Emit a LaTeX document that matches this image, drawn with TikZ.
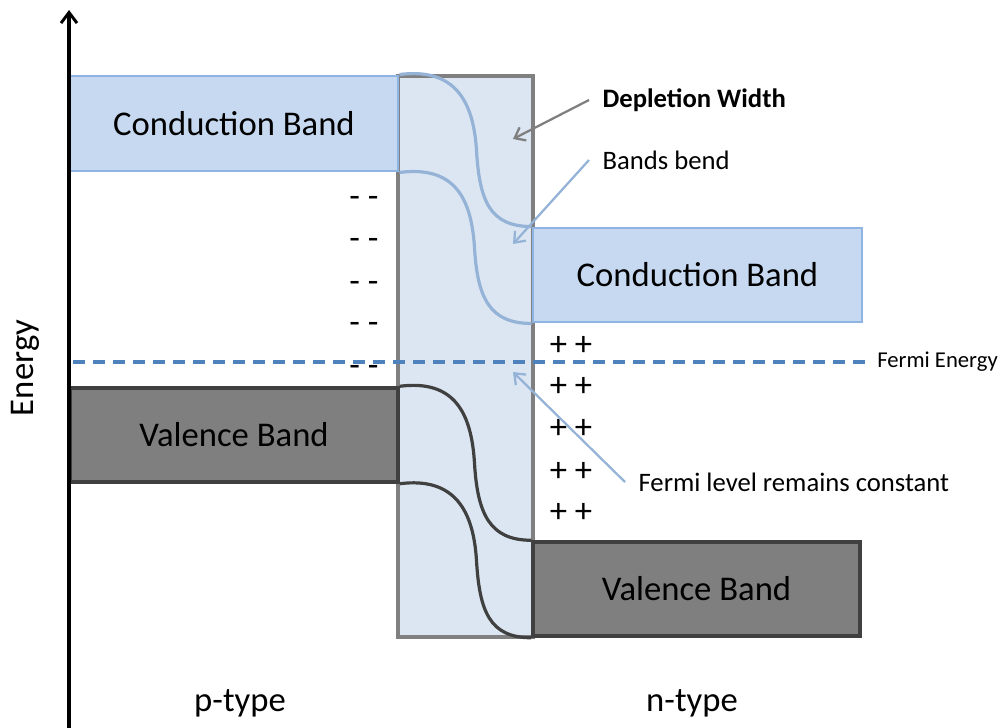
\documentclass[tikz,border=0pt]{standalone}
\usepackage{fontspec}
\setmainfont{Carlito}
\usetikzlibrary{arrows.meta,calc}
\definecolor{cbfill}{HTML}{C6D9F1}
\definecolor{cbdraw}{HTML}{8EB4E3}
\definecolor{depfill}{HTML}{DCE6F2}
\definecolor{depdraw}{HTML}{808080}
\definecolor{vbfill}{HTML}{7F7F7F}
\definecolor{vbdraw}{HTML}{404040}
\definecolor{bendblue}{HTML}{95B3D7}
\definecolor{fermiblue}{HTML}{4F81BD}
\definecolor{arrgray}{HTML}{7F7F7F}
\begin{document}
\begin{tikzpicture}[x=0.75pt,y=-0.75pt,
  bigtext/.style={font=\fontsize{26}{30}\selectfont},
  cbbox/.style={rectangle,draw=cbdraw,fill=cbfill,line width=2.2pt,bigtext,inner sep=0pt},
  vbbox/.style={rectangle,draw=vbdraw,fill=vbfill,line width=2.6pt,bigtext,inner sep=0pt},
  depbox/.style={rectangle,draw=depdraw,fill=depfill,line width=2.4pt,inner sep=0pt},
  cbcurve/.style={draw=bendblue,line width=2.4pt},
  vbcurve/.style={draw=vbdraw,line width=2.4pt},
  note/.style={font=\fontsize{20}{24}\selectfont,anchor=west,inner sep=10pt},
  notearrow/.style={line width=1.7pt,-{Straight Barb[length=7pt,width=11pt,line width=1.7pt]}},
  signs/.style={bigtext,inner sep=0pt}
]
\useasboundingbox (0,0) rectangle (1003,728);
% depletion region
\node[depbox,minimum width=135*0.75pt,minimum height=561*0.75pt] (dep) at (465.5,356.5) {};
% bands
\node[cbbox,minimum width=328*0.75pt,minimum height=95*0.75pt] (cbL) at (234,123.5) {Conduction Band};
\node[cbbox,minimum width=329*0.75pt,minimum height=94*0.75pt] (cbR) at (697.5,275) {Conduction Band};
\node[vbbox,minimum width=328*0.75pt,minimum height=94*0.75pt] (vbL) at (234,435) {Valence Band};
\node[vbbox,minimum width=327*0.75pt,minimum height=94*0.75pt] (vbR) at (696.5,589) {Valence Band};
% bent bands
\draw[cbcurve] (cbL.north east) .. controls +(55,-7) and +(-3,-50) .. ($(cbL.north east)!.5!(cbR.north west)+(11,0)$) .. controls +(3,50) and +(-42,0) .. (cbR.north west);
\draw[cbcurve] (cbL.south east) .. controls +(55,-7) and +(-3,-50) .. ($(cbL.south east)!.5!(cbR.south west)+(9,0)$) .. controls +(3,50) and +(-42,0) .. (cbR.south west);
\draw[vbcurve] (vbL.north east) .. controls +(55,-7) and +(-3,-50) .. ($(vbL.north east)!.5!(vbR.north west)+(9,0)$) .. controls +(3,50) and +(-42,0) .. (vbR.north west);
\draw[vbcurve] (vbL.south east) .. controls +(55,-7) and +(-3,-50) .. ($(vbL.south east)!.5!(vbR.south west)+(11,0)$) .. controls +(3,50) and +(-42,0) .. (vbR.south west);
% axis
\coordinate (axb) at (69,728);
\coordinate (axt) at (69,10);
\draw[line width=2.4pt,-{Straight Barb[length=8pt,width=12pt,line width=2.2pt]}] (axb) -- (axt);
\node[bigtext,rotate=90] (energy) at (25,368) {Energy};
% Fermi level
\coordinate (fstart) at (73,362);
\node[font=\fontsize{17}{20}\selectfont,anchor=west,inner sep=0pt] (fe) at (877,362) {Fermi Energy};
\draw[fermiblue,line width=2.4pt,dash pattern=on 9pt off 6pt] (fstart) -- ([xshift=-4pt]fe.west);
% charges
\foreach \y [count=\i] in {202,244,287,328,371}{
  \node[signs] (minus\i) at (364,\y) {- -};
}
\foreach \y [count=\i] in {346,387,429,472,513}{
  \node[signs] (plus\i) at (571,\y) {+ +};
}
% annotations
\node[note,font=\fontsize{20}{24}\selectfont\bfseries] (dw) at (589,100) {Depletion Width};
\coordinate (dwtip) at (513,139);
\draw[notearrow,arrgray] (dw.west) -- (dwtip);
\node[note] (bb) at (589,160) {Bands bend};
\coordinate (bbtip) at (513,244);
\draw[notearrow,bendblue] (bb.west) -- (bbtip);
\node[note] (fl) at (625,482) {Fermi level remains constant};
\coordinate (fltip) at (513,372);
\draw[notearrow,bendblue] (fl.west) -- (fltip);
% type labels
\node[bigtext] (ptype) at (240,703) {p-type};
\node[bigtext] (ntype) at (692,703) {n-type};
\end{tikzpicture}
\end{document}
